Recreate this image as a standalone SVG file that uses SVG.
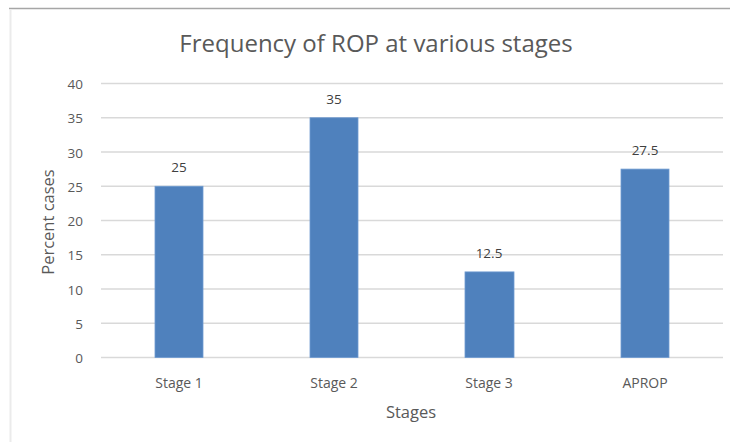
<svg xmlns="http://www.w3.org/2000/svg" width="730" height="442" viewBox="0 0 730 442">
<style>
.grid{stroke:#d9d9d9;stroke-width:1.3}
.bar{fill:#4f81bd;stroke:#6f9bd1;stroke-width:0.8}
.tick{font-family:"Open Sans","Liberation Sans",sans-serif;font-size:13.5px;fill:#595959;text-anchor:end}
.cat{font-family:"Open Sans","Liberation Sans",sans-serif;font-size:14px;fill:#595959;text-anchor:middle}
.dl{font-family:"Open Sans","Liberation Sans",sans-serif;font-size:13.5px;fill:#404040;text-anchor:middle}
.axt{font-family:"Open Sans","Liberation Sans",sans-serif;font-size:16.5px;fill:#595959;text-anchor:middle}
.title{font-family:"Open Sans","Liberation Sans",sans-serif;font-size:24px;fill:#595959;text-anchor:middle}
</style>
<rect x="0" y="0" width="730" height="442" fill="#ffffff"/>
<line x1="9" y1="8.5" x2="730" y2="8.5" stroke="#a6a6a6" stroke-width="1.5"/>
<line x1="10.5" y1="9" x2="10.5" y2="442" stroke="#ebebeb" stroke-width="2"/>
<text class="title" x="376" y="52">Frequency of ROP at various stages</text>
<g id="gridlines">
<line class="grid" x1="101" y1="83.5" x2="723" y2="83.5"/>
<line class="grid" x1="101" y1="117.75" x2="723" y2="117.75"/>
<line class="grid" x1="101" y1="152" x2="723" y2="152"/>
<line class="grid" x1="101" y1="186.25" x2="723" y2="186.25"/>
<line class="grid" x1="101" y1="220.5" x2="723" y2="220.5"/>
<line class="grid" x1="101" y1="254.75" x2="723" y2="254.75"/>
<line class="grid" x1="101" y1="289" x2="723" y2="289"/>
<line class="grid" x1="101" y1="323.25" x2="723" y2="323.25"/>
<line class="grid" x1="101" y1="357.5" x2="723" y2="357.5"/>
</g>
<g id="y-ticks">
<text class="tick" x="83" y="89">40</text>
<text class="tick" x="83" y="123">35</text>
<text class="tick" x="83" y="157.5">30</text>
<text class="tick" x="83" y="191.5">25</text>
<text class="tick" x="83" y="226">20</text>
<text class="tick" x="83" y="260">15</text>
<text class="tick" x="83" y="294.5">10</text>
<text class="tick" x="83" y="328.5">5</text>
<text class="tick" x="83" y="363">0</text>
</g>
<text class="axt" transform="translate(53.5,222) rotate(-90)">Percent cases</text>
<g id="stage1">
<rect class="bar" x="155" y="186.25" width="48" height="171.25"/>
<text class="dl" x="179" y="172">25</text>
<text class="cat" x="179" y="388">Stage 1</text>
</g>
<g id="stage2">
<rect class="bar" x="310" y="117.75" width="48" height="239.75"/>
<text class="dl" x="334" y="104">35</text>
<text class="cat" x="334" y="388">Stage 2</text>
</g>
<g id="stage3">
<rect class="bar" x="465" y="271.9" width="49" height="85.6"/>
<text class="dl" x="489" y="258">12.5</text>
<text class="cat" x="489" y="388">Stage 3</text>
</g>
<g id="aprop">
<rect class="bar" x="621" y="169.1" width="48" height="188.4"/>
<text class="dl" x="645" y="155">27.5</text>
<text class="cat" x="645" y="388">APROP</text>
</g>
<text class="axt" x="411" y="418">Stages</text>
<g id="connectors"/>
</svg>
